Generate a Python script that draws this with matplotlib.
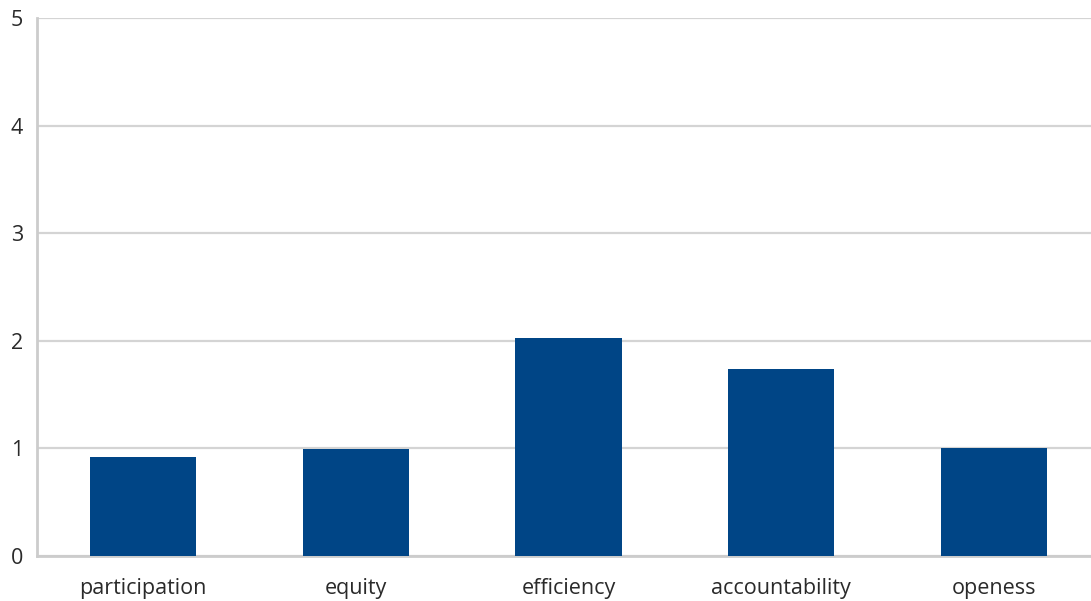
import matplotlib
matplotlib.use('Agg')
import matplotlib.pyplot as plt

categories = ['participation', 'equity', 'efficiency', 'accountability', 'openess']
values = [0.92, 0.99, 2.03, 1.74, 1.0]
yticks = [0, 1, 2, 3, 4, 5]

plt.rcParams['font.family'] = ['Open Sans', 'DejaVu Sans']

W, H = 1091, 601
fig = plt.figure(figsize=(W / 100.0, H / 100.0), dpi=100)
ax = fig.add_axes([37.0 / W, 45.0 / H, 1063.0 / W, 538.0 / H])

x = range(len(categories))
ax.bar(x, values, width=0.5, color='#004586', zorder=3)

ax.set_xlim(-0.5, len(categories) - 0.5)
ax.set_ylim(0, 5)
ax.set_yticks(yticks)
ax.set_xticks(list(x))
ax.set_xticklabels(categories)

ax.grid(axis='y', color='#d4d4d4', linewidth=1.6, zorder=0)
for side in ['top', 'right']:
    ax.spines[side].set_visible(False)
for side in ['left', 'bottom']:
    ax.spines[side].set_color('#cccccc')
    ax.spines[side].set_linewidth(2)
ax.tick_params(axis='both', length=0, labelsize=15.5, colors='#2a2a2a')
ax.tick_params(axis='x', pad=16)
ax.tick_params(axis='y', pad=10)

plt.savefig('out.png', dpi=100)
